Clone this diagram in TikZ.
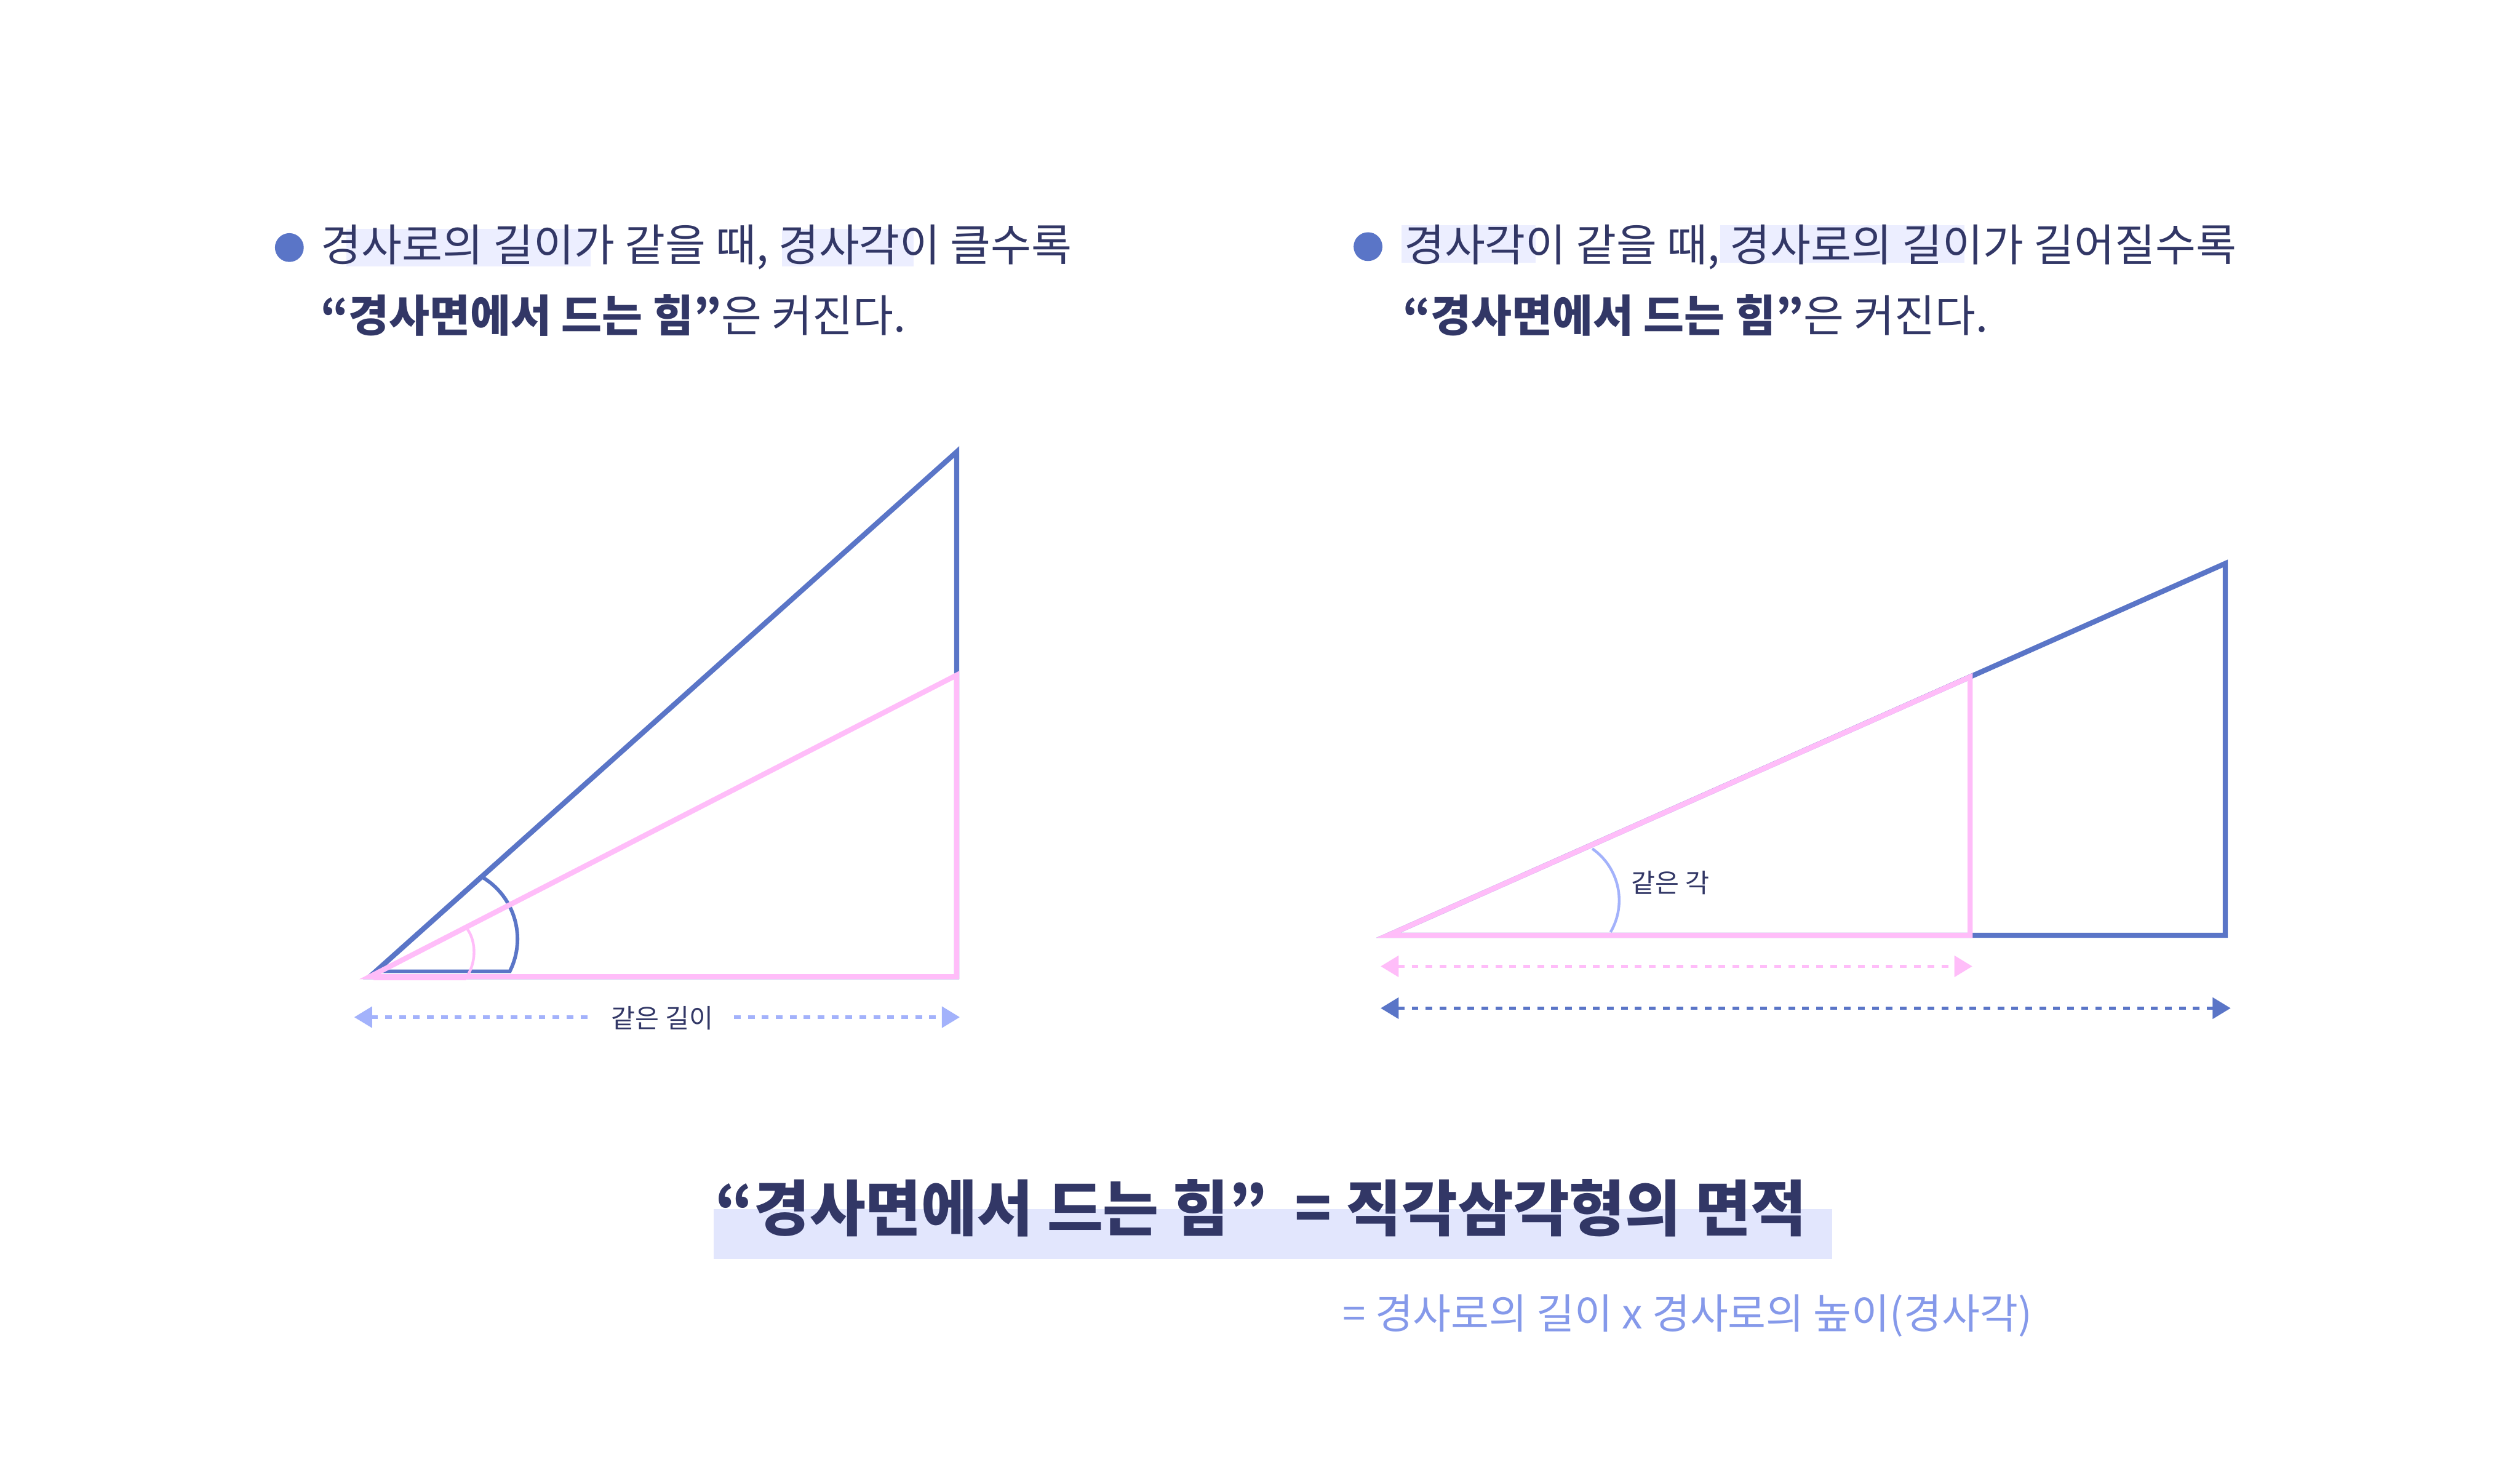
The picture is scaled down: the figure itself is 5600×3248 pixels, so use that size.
\documentclass[tikz,border=0pt]{standalone}
\usepackage{fontspec}
\setmainfont{Noto Sans CJK KR}
\usetikzlibrary{arrows.meta}
\definecolor{navy}{HTML}{323766}
\definecolor{cblue}{HTML}{5A75C7}
\definecolor{cpink}{HTML}{FFBDF9}
\definecolor{clight}{HTML}{A3B2FB}
\definecolor{hlone}{HTML}{ECEEFF}
\definecolor{hltwo}{HTML}{E2E6FD}
\definecolor{formula}{HTML}{8599EA}
\tikzset{
  bodytxt/.style={anchor=base west, inner sep=0pt, text=navy, font=\fontsize{9.8pt}{12pt}\selectfont},
  hlbox/.style={fill=hlone, draw=none},
  tri/.style={line width=1.15pt, line join=miter},
  smalllabel/.style={inner ysep=0pt, inner xsep=4pt, text=navy, font=\fontsize{5.8pt}{7pt}\selectfont},
  dimline/.style={line width=0.8pt, dash pattern=on 1.5pt off 1.6pt,
     {Triangle[length=4pt,width=4.6pt]}-{Triangle[length=4pt,width=4.6pt]}},
  bullet/.style={circle, fill=cblue, inner sep=0pt, minimum size=6.4pt}
}
\begin{document}
\begin{tikzpicture}[x=0.1pt,y=-0.1pt]
\useasboundingbox (0,0) rectangle (5600,3248);
\fill[white] (0,0) rectangle (5600,3248);

% ---------- top texts ----------
\fill[hlone] (770,508) rectangle (1312,592);
\fill[hlone] (1737,508) rectangle (2030,592);
\fill[hlone] (3115,500) rectangle (3412,584);
\fill[hlone] (3823,500) rectangle (4366,584);

\node[bullet] (b1) at (643,550) {};
\node[bodytxt] (l1) at (711,580) {경사로의 길이가 같을 때, 경사각이 클수록};
\node[bodytxt] (l2) at (711,738) {\textbf{“경사면에서 드는 힘”}은 커진다.};

\node[bullet] (b2) at (3040,548) {};
\node[bodytxt] (r1) at (3118,580) {경사각이 같을 때, 경사로의 길이가 길어질수록};
\node[bodytxt] (r2) at (3116,738) {\textbf{“경사면에서 드는 힘”}은 커진다.};

% ---------- left diagram ----------
\coordinate (A) at (822,2170);
\coordinate (B) at (2126,2170);
\coordinate (C) at (2126,1004);
\coordinate (D) at (2126,1500);

\draw[tri, cblue] (A) -- (C) -- (B) -- cycle;
\draw[cblue, line width=0.8pt] (A) ++(10,-12) -- (1133,2158)
   arc[start angle=26.6, end angle=-59.3, radius=160];
\draw[tri, cpink] (A) -- (D) -- (B) -- cycle;
\draw[cpink, line width=0.6pt] (830,2175) -- (1034,2175)
   .. controls (1060,2140) and (1058,2092) .. (1039,2065);

\coordinate (la) at (787,2260);
\coordinate (lb) at (2133,2260);
\draw[dimline, clight] (la) -- (lb);
\node[smalllabel, fill=white] (samelen) at (1472,2262) {같은 길이};

% ---------- right diagram ----------
\coordinate (P) at (3085,2078);
\coordinate (Q) at (4378,2078);
\coordinate (R) at (4378,1504);
\coordinate (S) at (4945,1252);
\coordinate (T) at (4945,2078);

\draw[tri, cblue] (P) -- (S) -- (T) -- cycle;
\draw[clight, line width=0.6pt] (3579,2071) arc[start angle=30.3, end angle=-55, radius=140];
\draw[tri, cpink] (P) -- (R) -- (Q) -- cycle;
\node[smalllabel, inner xsep=0pt] (sameang) at (3712,1962) {같은 각};

\coordinate (pa) at (3068,2147);
\coordinate (pb) at (4383,2147);
\draw[dimline, cpink] (pa) -- (pb);
\coordinate (qa) at (3068,2240);
\coordinate (qb) at (4957,2240);
\draw[dimline, cblue] (qa) -- (qb);

% ---------- bottom ----------
\fill[hltwo] (1586,2687) rectangle (4071,2797);
\node[anchor=base west, inner sep=0pt, text=navy, font=\fontsize{13.5pt}{16pt}\selectfont\bfseries] (head) at (1588,2735)
  {“경사면에서 드는 힘”~~= 직각삼각형의 면적};
\node[anchor=base west, inner sep=0pt, text=formula, font=\fontsize{9.2pt}{11pt}\selectfont] (form) at (2982,2953)
  {= 경사로의 길이 x 경사로의 높이(경사각)};
\end{tikzpicture}
\end{document}
